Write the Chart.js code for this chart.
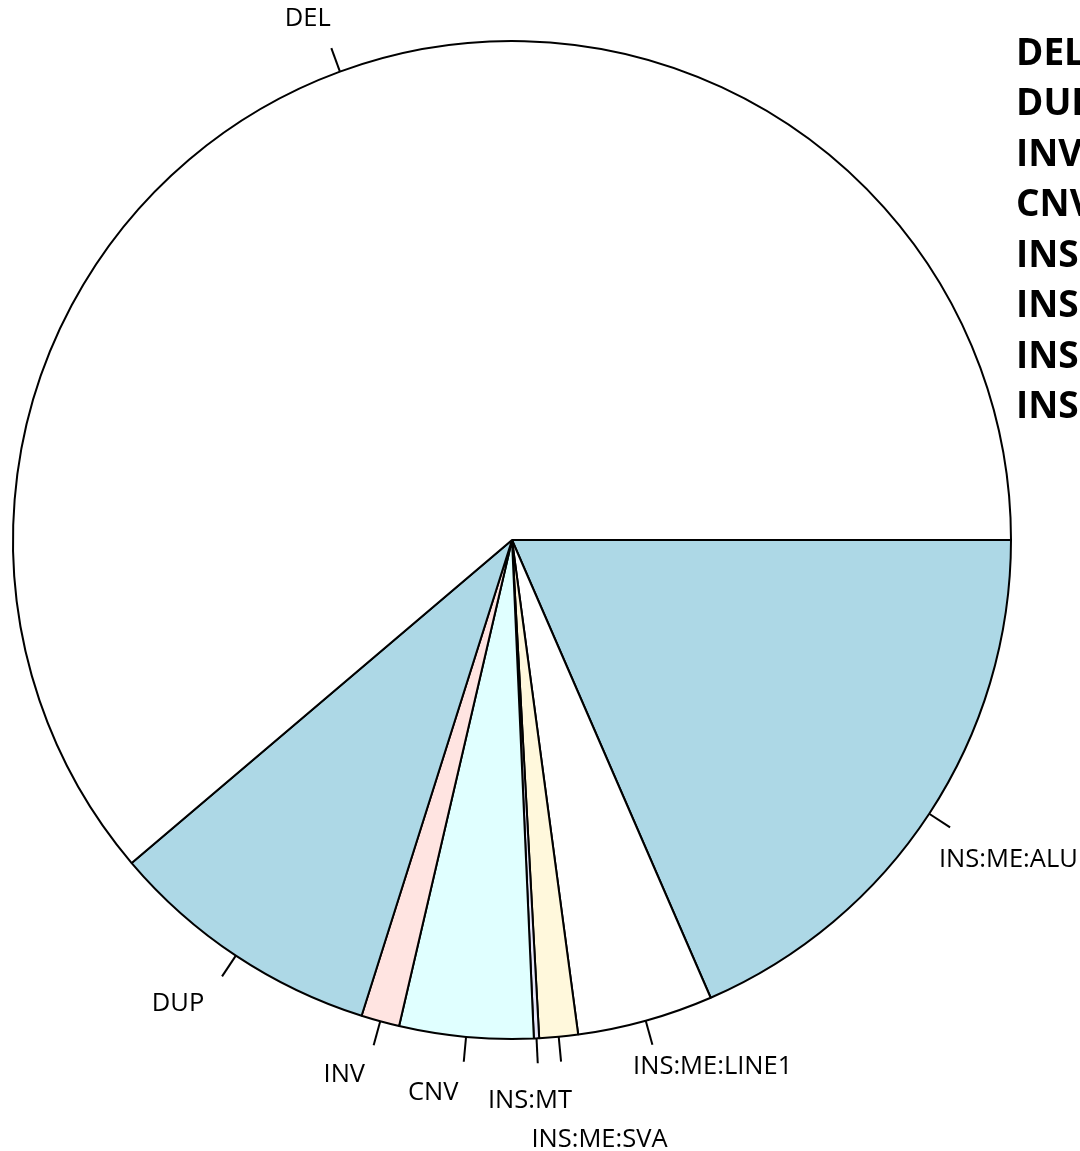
<!DOCTYPE html>
<html>
<head>
<meta charset="utf-8">
<script src="https://cdn.jsdelivr.net/npm/chart.js@4.4.1/dist/chart.umd.min.js"></script>
<style>
  html, body { margin: 0; padding: 0; background: #ffffff; }
  #wrap { width: 1080px; height: 1151px; overflow: hidden; }
</style>
</head>
<body>
<div id="wrap"><canvas id="pie" width="1080" height="1151"></canvas></div>
<script>
// share of each SV type (percent of calls)
var categories = ["DEL", "DUP", "INV", "CNV", "INS:MT", "INS:ME:SVA", "INS:ME:LINE1", "INS:ME:ALU"];
var shares = [61.2, 8.92, 1.24, 4.33, 0.17, 1.25, 4.40, 18.48];
var sliceColors = ["#FFFFFF", "#ADD8E6", "#FFE4E1", "#E0FFFF", "#E6E6FA", "#FFF8DC", "#FFFFFF", "#ADD8E6"];

// hand nudges for the slice labels (px), same order as categories
var labelNudge = [[8, -6], [-4, 7], [-2, 5], [-3, 6], [-51, 12], [-32, 53], [-26, -2], [-32, 19]];

// R draws counter-clockwise from 3 o'clock, chart.js goes clockwise -> reverse
var order = categories.map(function (c, i) { return i; }).reverse();

var sliceLabels = {
    id: 'sliceLabels',
    afterDatasetsDraw: function (chart) {
        var ctx = chart.ctx;
        var meta = chart.getDatasetMeta(0);
        ctx.save();
        meta.data.forEach(function (arc, j) {
            var i = order[j];
            var p = arc.getProps(['x', 'y', 'startAngle', 'endAngle', 'outerRadius'], true);
            var mid = (p.startAngle + p.endAngle) / 2;
            var c = Math.cos(mid), s = Math.sin(mid);
            var r = p.outerRadius;
            ctx.strokeStyle = '#000';
            ctx.lineWidth = 2;
            ctx.beginPath();
            ctx.moveTo(p.x + r * c, p.y + r * s);
            ctx.lineTo(p.x + 1.05 * r * c, p.y + 1.05 * r * s);
            ctx.stroke();
            ctx.fillStyle = '#000';
            ctx.font = '25.5px "Open Sans"';
            ctx.textBaseline = 'middle';
            ctx.textAlign = c < 0 ? 'right' : 'left';
            ctx.fillText(categories[i], p.x + 1.1 * r * c + labelNudge[i][0], p.y + 1.1 * r * s + labelNudge[i][1]);
        });
        // legend text, runs off the right edge like the original
        ctx.font = 'bold 37px "Open Sans"';
        ctx.textAlign = 'left';
        ctx.textBaseline = 'middle';
        categories.forEach(function (name, i) {
            ctx.fillText(name, 1016, 54 + i * 50.5);
        });
        ctx.restore();
    }
};

var chart = new Chart(document.getElementById("pie"), {
    type: 'pie',
    data: {
        labels: order.map(function (i) { return categories[i]; }),
        datasets: [{
            data: order.map(function (i) { return shares[i]; }),
            backgroundColor: order.map(function (i) { return sliceColors[i]; }),
            borderColor: '#000000',
            borderWidth: 2,
            hoverOffset: 0
        }]
    },
    options: {
        responsive: false,
        animation: false,
        rotation: 90,
        radius: 499,
        layout: { padding: { left: 0, right: 56, top: 0, bottom: 71 } },
        plugins: {
            legend: { display: false },
            tooltip: { enabled: false }
        }
    },
    plugins: [sliceLabels]
});
</script>
</body>
</html>
